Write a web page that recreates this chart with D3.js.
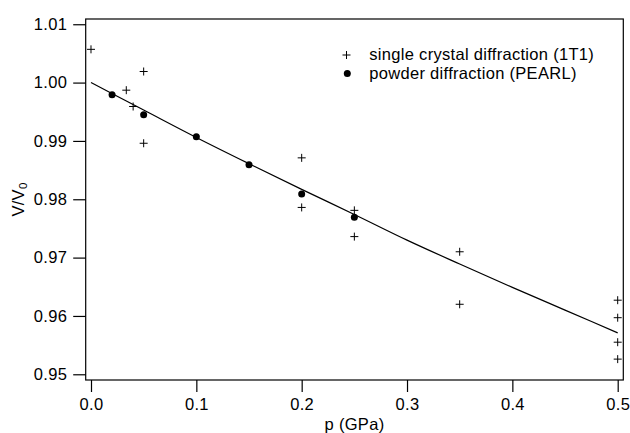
<!DOCTYPE html>
<html>
<head>
<meta charset="utf-8">
<script src="https://cdn.jsdelivr.net/npm/d3@7"></script>
<style>
  html, body { margin: 0; padding: 0; background: #fff; }
  svg { display: block; }
  text { font-family: "Liberation Sans", Arial, Helvetica, sans-serif; fill: #000; }
</style>
</head>
<body>
<svg id="chart" width="630" height="433"></svg>
<script>
// ---- data ----
const crystalP = [0, 0.0335, 0.04, 0.05, 0.05, 0.2, 0.2, 0.25, 0.25, 0.35, 0.35, 0.5, 0.5, 0.5, 0.5];
const crystalV = [1.0057, 0.9987, 0.9959, 1.0019, 0.9896, 0.9871, 0.9786, 0.9781, 0.9736, 0.9710, 0.9620, 0.9627, 0.9597, 0.9555, 0.9526];

const powderP = [0.02, 0.05, 0.1, 0.15, 0.2, 0.25];
const powderV = [0.9979, 0.9945, 0.9907, 0.9859, 0.9809, 0.9769];

const fitP = [0, 0.05, 0.1, 0.15, 0.2, 0.25, 0.3, 0.35, 0.4, 0.45, 0.5];
const fitV = [1.0000, 0.9953, 0.9906, 0.9861, 0.9817, 0.9774, 0.9730, 0.9689, 0.9649, 0.9610, 0.9571];

const xTicks = [0, 0.1, 0.2, 0.3, 0.4, 0.5];
const yTicks = [0.95, 0.96, 0.97, 0.98, 0.99, 1.00, 1.01];

const legendLabels = ["single crystal diffraction (1T1)", "powder diffraction (PEARL)"];

// ---- layout ----
const svg = d3.select("#chart");
const frame = { left: 85.7, right: 623.3, top: 19, bottom: 380 };
const x = d3.scaleLinear().domain([-0.00503, 0.50532]).range([frame.left, frame.right]);
const y = d3.scaleLinear().domain([0.94902, 1.0109]).range([frame.bottom, frame.top]);

const fontSize = "16.5px";
const letterSp = "0.3px";

// frame
svg.append("rect")
  .attr("x", frame.left).attr("y", frame.top)
  .attr("width", frame.right - frame.left).attr("height", frame.bottom - frame.top)
  .attr("fill", "none").attr("stroke", "#000").attr("stroke-width", 1.2);

// x axis
const xAxis = d3.axisBottom(x).tickValues(xTicks).tickFormat(d3.format(".1f")).tickSize(12).tickPadding(6);
const gx = svg.append("g").attr("transform", `translate(0,${frame.bottom})`).call(xAxis);
gx.select(".domain").remove();
gx.selectAll("line").attr("stroke", "#000").attr("stroke-width", 1.2);
gx.selectAll("text").attr("font-size", fontSize).attr("letter-spacing", letterSp)
  .attr("font-family", "Liberation Sans, Arial, sans-serif").attr("fill", "#000");

// y axis
const yAxis = d3.axisLeft(y).tickValues(yTicks).tickFormat(d3.format(".2f")).tickSize(12.5).tickPadding(6);
const gy = svg.append("g").attr("transform", `translate(${frame.left},0)`).call(yAxis);
gy.select(".domain").remove();
gy.selectAll("line").attr("stroke", "#000").attr("stroke-width", 1.2);
gy.selectAll("text").attr("font-size", fontSize).attr("letter-spacing", letterSp)
  .attr("font-family", "Liberation Sans, Arial, sans-serif").attr("fill", "#000");

// axis titles
svg.append("text")
  .attr("x", (frame.left + frame.right) / 2).attr("y", 430)
  .attr("text-anchor", "middle").attr("font-size", fontSize).attr("letter-spacing", letterSp)
  .text("p (GPa)");

const yt = svg.append("text")
  .attr("transform", `translate(23.5,${(frame.top + frame.bottom) / 2}) rotate(-90)`)
  .attr("text-anchor", "middle").attr("font-size", fontSize).attr("letter-spacing", letterSp);
yt.append("tspan").text("V/V");
yt.append("tspan").attr("baseline-shift", "-25%").attr("font-size", "11.5px").text("0");

// fit line
const fitData = fitP.map((p, i) => [p, fitV[i]]);
svg.append("path")
  .datum(fitData)
  .attr("d", d3.line().x(d => x(d[0])).y(d => y(d[1])).curve(d3.curveMonotoneX))
  .attr("fill", "none").attr("stroke", "#000").attr("stroke-width", 1.2);

// plus markers
const plusPath = "M-4,0H4M0,-4V4";
svg.append("g").selectAll("path")
  .data(crystalP.map((p, i) => [p, crystalV[i]]))
  .join("path")
  .attr("transform", d => `translate(${x(d[0])},${y(d[1])})`)
  .attr("d", plusPath)
  .attr("stroke", "#000").attr("stroke-width", 1).attr("fill", "none");

// dots
svg.append("g").selectAll("circle")
  .data(powderP.map((p, i) => [p, powderV[i]]))
  .join("circle")
  .attr("cx", d => x(d[0])).attr("cy", d => y(d[1]))
  .attr("r", 3.5).attr("fill", "#000");

// legend
const lg = svg.append("g");
lg.append("path").attr("transform", "translate(346.5,55)").attr("d", plusPath)
  .attr("stroke", "#000").attr("stroke-width", 1).attr("fill", "none");
lg.append("circle").attr("cx", 347.3).attr("cy", 73.5).attr("r", 3.5).attr("fill", "#000");
lg.selectAll("text.lt")
  .data(legendLabels)
  .join("text")
  .attr("class", "lt")
  .attr("x", 369.3).attr("y", (d, i) => 59.5 + i * 19)
  .attr("font-size", fontSize).attr("letter-spacing", letterSp)
  .text(d => d);
</script>
</body>
</html>
